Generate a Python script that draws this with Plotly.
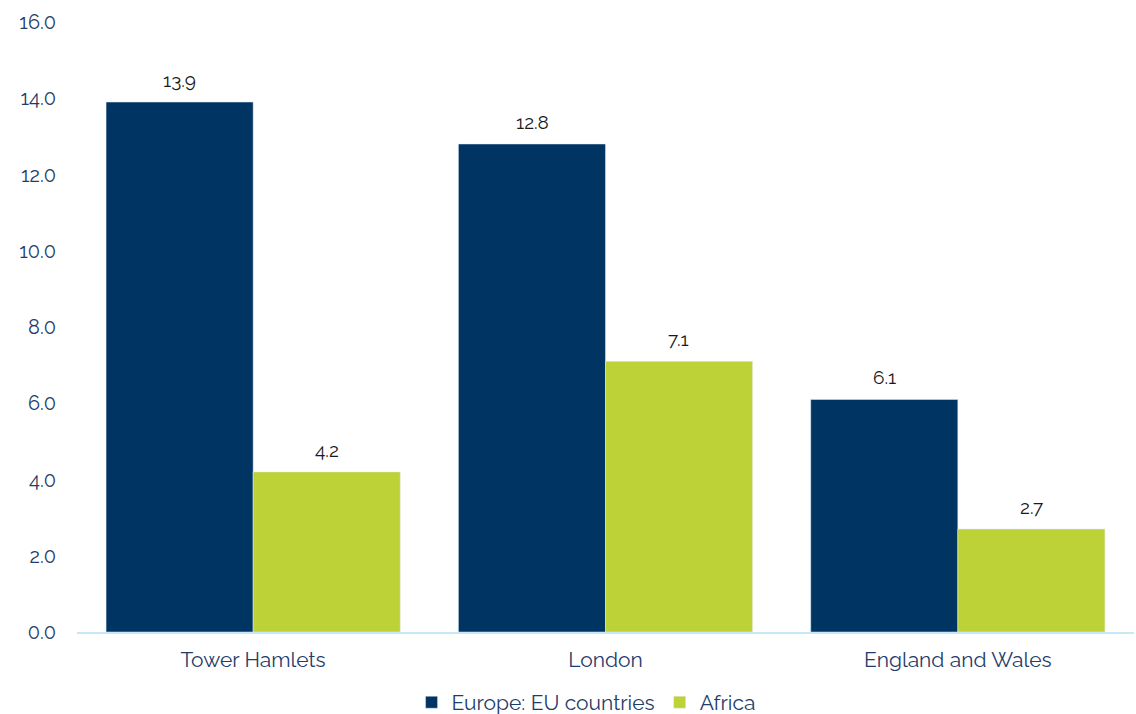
import plotly.graph_objects as go

categories = ["Tower Hamlets", "London", "England and Wales"]
europe_eu = [13.9, 12.8, 6.1]
africa = [4.2, 7.1, 2.7]
y_ticks = [0, 2, 4, 6, 8, 10, 12, 14, 16]

navy = "#003462"
lime = "#bdd236"
text_col = "#1f3d6b"
font_family = "Raleway, Lato, 'Open Sans', sans-serif"

fig = go.Figure()
fig.add_bar(x=categories, y=europe_eu, name="Europe: EU countries",
            marker_color=navy, offsetgroup="eu")
fig.add_bar(x=categories, y=africa, name="Africa",
            marker_color=lime, offsetgroup="af")

# value labels above each bar, placed on the bar's own x offset
for vals, shift in ((europe_eu, -0.2085), (africa, 0.2085)):
    for i, v in enumerate(vals):
        fig.add_annotation(
            x=i + shift, y=v, text=f"{v:.1f}", showarrow=False,
            yanchor="bottom", yshift=9, xref="x", yref="y",
            font=dict(color="#1a1a1a", size=19, family=font_family),
        )

fig.update_layout(
    width=1136, height=714,
    margin=dict(l=77, r=2, t=22, b=82, autoexpand=False),
    paper_bgcolor="white", plot_bgcolor="white",
    barmode="group", bargap=0.165, bargroupgap=0,
    font=dict(family=font_family, color=text_col, size=19),
    showlegend=True,
    legend=dict(
        orientation="h", x=0.4816, xanchor="center",
        yref="container", y=0.016, yanchor="middle",
        font=dict(size=21, color=text_col),
        traceorder="normal",
    ),
    xaxis=dict(
        showline=True, linecolor="#c6e9f7", linewidth=2,
        tickfont=dict(size=21, color=text_col), ticks="",
        showgrid=False, ticklabelstandoff=8,
    ),
    yaxis=dict(
        range=[0, 16], tickvals=y_ticks,
        ticktext=[f"{v:.1f}" for v in y_ticks],
        showgrid=False, zeroline=False, showline=False,
        tickfont=dict(size=20, color=text_col), ticks="",
        ticklabelstandoff=20,
    ),
)

fig.write_html("out.html")
